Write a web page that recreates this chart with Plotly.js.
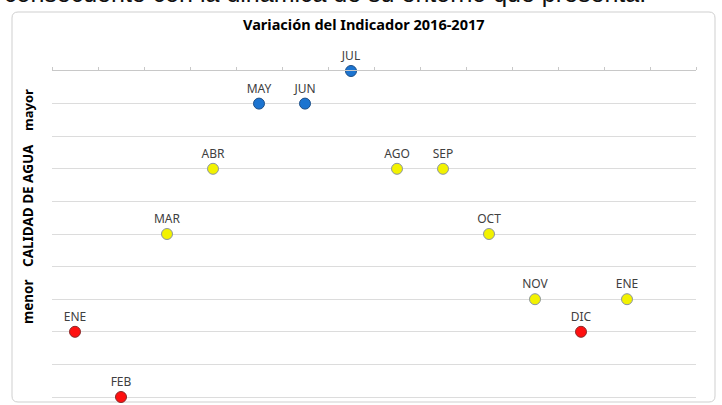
<!DOCTYPE html>
<html>
<head>
<meta charset="utf-8">
<script src="https://cdn.plot.ly/plotly-3.0.1.min.js"></script>
<style>html,body{margin:0;padding:0;background:#fff;}#chart{width:722px;height:405px;}</style>
</head>
<body>
<div id="chart"></div>
<script>
// Data
const months = ["ENE","FEB","MAR","ABR","MAY","JUN","JUL","AGO","SEP","OCT","NOV","DIC","ENE"];
const position = [1,2,3,4,5,6,7,8,9,10,11,12,13];
const quality = [2,0,5,7,9,9,10,7,7,5,3,2,3];
const level = ["red","red","yellow","yellow","blue","blue","blue","yellow","yellow","yellow","yellow","red","yellow"];
const yAxisWords = ["menor","CALIDAD DE AGUA","mayor"];
const titleText = "Variación del Indicador 2016-2017";
const captionText = "consecuente con la dinámica de su entorno que presenta.";

const fillColors = {red:"#ff1010", yellow:"#f2f200", blue:"#1c74d0"};
const edgeColors = {red:"#8a2a2a", yellow:"#8c95a0", blue:"#1d4f88"};

const trace = {
  type: "scatter",
  mode: "markers+text",
  x: position,
  y: quality,
  text: months,
  textposition: "top center",
  textfont: {family: "Noto Sans, sans-serif", size: 12, color: "#404040"},
  cliponaxis: false,
  hoverinfo: "skip",
  marker: {
    size: 11,
    color: level.map(l => fillColors[l]),
    line: {width: 1, color: level.map(l => edgeColors[l])}
  }
};

const L = 52, R = 26, T = 71, B = 8;
const pw = 722 - L - R, ph = 405 - T - B;
function px2paperX(px){ return (px - L) / pw; }
function px2paperY(py){ return 1 - (py - T) / ph; }

// rounded frame
const fx0 = px2paperX(12), fx1 = px2paperX(715), fy0 = px2paperY(402), fy1 = px2paperY(12);
const rx = 6 / pw, ry = 6 / ph;
const framePath = `M ${fx0+rx},${fy1} L ${fx1-rx},${fy1} Q ${fx1},${fy1} ${fx1},${fy1-ry} L ${fx1},${fy0+ry} Q ${fx1},${fy0} ${fx1-rx},${fy0} L ${fx0+rx},${fy0} Q ${fx0},${fy0} ${fx0},${fy0+ry} L ${fx0},${fy1-ry} Q ${fx0},${fy1} ${fx0+rx},${fy1} Z`;

const wordCenters = [302, 206, 110];
const wordSizes = [13.5, 13.5, 13];
const annotations = yAxisWords.map((w, i) => ({
  text: "<b>" + w + "</b>",
  xref: "paper", yref: "paper",
  x: px2paperX(28), y: px2paperY(wordCenters[i]),
  xanchor: "center", yanchor: "middle",
  textangle: -90, showarrow: false,
  font: {family: "Noto Sans, sans-serif", size: wordSizes[i], color: "#000"}
}));
annotations.push({
  text: "<b>" + titleText + "</b>",
  xref: "paper", yref: "paper",
  x: px2paperX(364), y: px2paperY(24),
  xanchor: "center", yanchor: "middle", showarrow: false,
  font: {family: "Noto Sans, sans-serif", size: 14.5, color: "#000"}
});
annotations.push({
  text: captionText,
  xref: "paper", yref: "paper",
  x: px2paperX(2), y: px2paperY(9),
  xanchor: "left", yanchor: "bottom", showarrow: false,
  font: {family: "Liberation Sans, Arial, sans-serif", size: 25, color: "#111"}
});

const layout = {
  width: 722, height: 405,
  margin: {l: L, r: R, t: T, b: B, pad: 0},
  paper_bgcolor: "#ffffff",
  plot_bgcolor: "#ffffff",
  showlegend: false,
  xaxis: {
    side: "top",
    range: [0.5, 14.5],
    tick0: 0.5, dtick: 1,
    showgrid: false, zeroline: false,
    showline: true, linecolor: "#c8c8c8", linewidth: 1,
    ticks: "outside", ticklen: 3, tickcolor: "#c8c8c8",
    showticklabels: false, fixedrange: true
  },
  yaxis: {
    range: [0, 10],
    tick0: 0, dtick: 1,
    showgrid: true, gridcolor: "#dcdcdc", gridwidth: 1,
    zeroline: true, zerolinecolor: "#dcdcdc", zerolinewidth: 1,
    showline: false, ticks: "", showticklabels: false, fixedrange: true
  },
  shapes: [{type: "path", xref: "paper", yref: "paper", path: framePath, line: {color: "#cfcfcf", width: 1}, layer: "below"}],
  annotations: annotations
};

Plotly.newPlot("chart", [trace], layout, {displayModeBar: false, staticPlot: true});
</script>
</body>
</html>
